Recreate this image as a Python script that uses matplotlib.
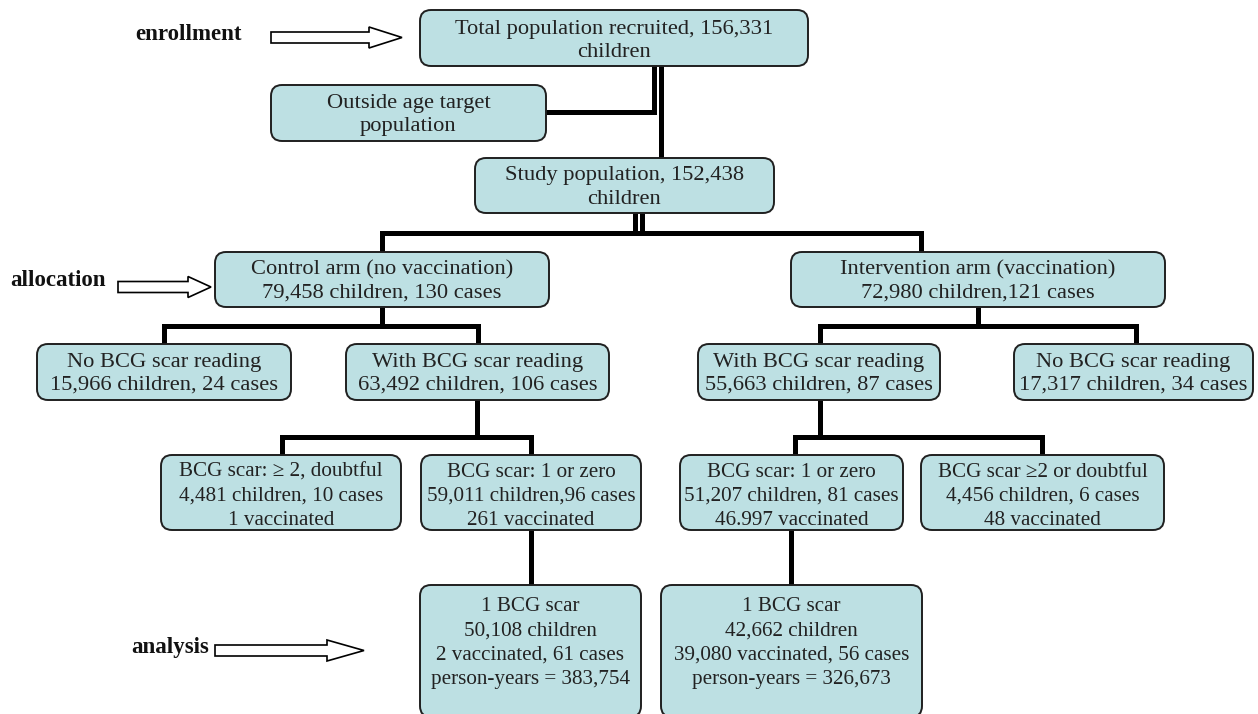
import matplotlib
matplotlib.use("Agg")
import matplotlib.pyplot as plt
from matplotlib.patches import FancyBboxPatch, Polygon

# ---- content ----
stage_labels = ["enrollment", "allocation", "analysis"]

box_texts = [
    "Total population recruited, 156,331\nchildren",
    "Outside age target\npopulation",
    "Study population, 152,438\nchildren",
    "Control arm (no vaccination)\n79,458 children, 130 cases",
    "Intervention arm (vaccination)\n72,980 children,121 cases",
    "No BCG scar reading\n15,966 children, 24 cases",
    "With BCG scar reading\n63,492 children, 106 cases",
    "With BCG scar reading\n55,663 children, 87 cases",
    "No BCG scar reading\n17,317 children, 34 cases",
    "BCG scar: \u2265 2, doubtful\n4,481 children, 10 cases\n1 vaccinated",
    "BCG scar: 1 or zero\n59,011 children,96 cases\n261 vaccinated",
    "BCG scar: 1 or zero\n51,207 children, 81 cases\n46.997 vaccinated",
    "BCG scar \u22652 or doubtful\n4,456 children, 6 cases\n48 vaccinated",
    "1 BCG scar\n50,108 children\n2 vaccinated, 61 cases\nperson-years = 383,754",
    "1 BCG scar\n42,662 children\n39,080 vaccinated, 56 cases\nperson-years = 326,673",
]

# ---- layout (pixel coordinates: x0, y0, x1, y1) ----
box_rects = [
    (420, 10, 808, 66),
    (271, 85, 546, 141),
    (475, 158, 774, 213),
    (215, 252, 549, 307),
    (791, 252, 1165, 307),
    (37, 344, 291, 400),
    (346, 344, 609, 400),
    (698, 344, 940, 400),
    (1014, 344, 1253, 400),
    (161, 455, 401, 530),
    (421, 455, 641, 530),
    (680, 455, 903, 530),
    (921, 455, 1164, 530),
    (420, 585, 641, 717),
    (661, 585, 922, 717),
]
text_y_offset = [3, 2, 2, 2, 2, 2, 2, 2, 2, 4, 4, 4, 4, -8, -8]
font_sizes = [16.2] * 9 + [15.2] * 6

connectors = [
    [(546, 112), (654, 112), (654, 66)],
    [(661, 66), (661, 158)],
    [(635, 213), (635, 233)],
    [(642, 213), (642, 233)],
    [(382, 252), (382, 233), (921, 233), (921, 252)],
    [(382, 307), (382, 326)],
    [(164, 344), (164, 326), (478, 326), (478, 344)],
    [(978, 307), (978, 326)],
    [(820, 344), (820, 326), (1136, 326), (1136, 344)],
    [(477, 400), (477, 437)],
    [(282, 455), (282, 437), (531, 437), (531, 455)],
    [(820, 400), (820, 437)],
    [(795, 455), (795, 437), (1042, 437), (1042, 455)],
    [(531, 530), (531, 585)],
    [(791, 530), (791, 585)],
]

label_pos = [(188, 34), (58, 281), (170, 647)]
# arrows: x_start, x_headbase, x_tip, y_center
arrows = [(271, 369, 402, 37.5), (118, 188, 211, 287), (215, 327, 364, 650.5)]
shaft_h = 11
head_h = 21

FILL = "#bde0e3"
EDGE = "#1f1f1f"
FONT = ["Liberation Serif", "DejaVu Serif"]

fig = plt.figure(figsize=(12.58, 7.14), dpi=100)
ax = fig.add_axes([0, 0, 1, 1])
ax.set_xlim(0, 1258)
ax.set_ylim(714, 0)
ax.axis("off")

for pts in connectors:
    xs, ys = zip(*pts)
    ax.plot(xs, ys, color="black", lw=3.6, solid_capstyle="butt",
            solid_joinstyle="miter", zorder=1)

for (x0, y0, x1, y1), txt, dy, fs in zip(box_rects, box_texts, text_y_offset, font_sizes):
    p = FancyBboxPatch((x0, y0), x1 - x0, y1 - y0,
                       boxstyle="round,pad=0,rounding_size=11",
                       facecolor=FILL, edgecolor=EDGE, lw=1.4, zorder=2)
    ax.add_patch(p)
    ax.text((x0 + x1) / 2, (y0 + y1) / 2 + dy, txt, ha="center", va="center",
            fontsize=fs, family=FONT, color="#222222",
            linespacing=1.29 * 16.2 / fs, zorder=3)

for (x, y), lab in zip(label_pos, stage_labels):
    ax.text(x, y, lab, ha="center", va="center", fontsize=16.5,
            family=FONT, weight="bold", color="#111111")

for xs, xb, xt, yc in arrows:
    poly = [(xs, yc - shaft_h / 2), (xb, yc - shaft_h / 2), (xb, yc - head_h / 2),
            (xt, yc), (xb, yc + head_h / 2), (xb, yc + shaft_h / 2),
            (xs, yc + shaft_h / 2)]
    ax.add_patch(Polygon(poly, closed=True, facecolor="white",
                         edgecolor="black", lw=1.2, zorder=2))

fig.savefig("out.png", dpi=100)
